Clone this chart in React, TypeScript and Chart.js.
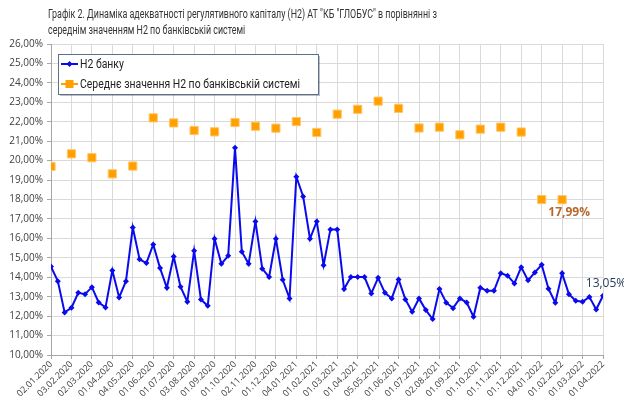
import React, { useEffect, useRef } from "react";
import { Chart, registerables } from "chart.js";

Chart.register(...registerables);

const monthLabels: string[] = [
  "02.01.2020", "03.02.2020", "02.03.2020", "01.04.2020", "04.05.2020", "01.06.2020",
  "01.07.2020", "03.08.2020", "01.09.2020", "01.10.2020", "02.11.2020", "01.12.2020",
  "04.01.2021", "01.02.2021", "01.03.2021", "01.04.2021", "05.05.2021", "01.06.2021",
  "01.07.2021", "02.08.2021", "01.09.2021", "01.10.2021", "01.11.2021", "01.12.2021",
  "04.01.2022", "01.02.2022", "01.03.2022", "01.04.2022",
];

// Н2 банку: three observations per month interval
const bankH2: number[] = [
  14.55, 13.80, 12.19, 12.43, 13.20, 13.13, 13.49, 12.70, 12.45, 14.35,
  12.96, 13.80, 16.56, 14.92, 14.73, 15.69, 14.47, 13.46, 15.07, 13.51,
  12.74, 15.36, 12.86, 12.53, 15.98, 14.69, 15.10, 20.66, 15.31, 14.69,
  16.87, 14.44, 14.01, 15.98, 13.87, 12.91, 19.17, 18.16, 15.98, 16.87,
  14.62, 16.46, 16.46, 13.39, 14.01, 14.01, 14.01, 13.17, 13.97, 13.20,
  12.91, 13.89, 12.86, 12.22, 12.91, 12.31, 11.85, 13.39, 12.69, 12.41,
  12.91, 12.70, 11.97, 13.46, 13.30, 13.30, 14.21, 14.08, 13.68, 14.52,
  13.84, 14.25, 14.64, 13.41, 12.69, 14.20, 13.13, 12.79, 12.74, 12.99,
  12.34, 13.05,
];

// Середнє значення Н2 по банківській системі: monthly
const systemH2: (number | null)[] = [
  19.70, 20.35, 20.15, 19.32, 19.72, 22.20, 21.94, 21.55, 21.48, 21.96,
  21.77, 21.67, 22.01, 21.45, 22.39, 22.64, 23.06, 22.69, 21.68, 21.72,
  21.33, 21.62, 21.72, 21.47, 18.00, 17.99, null, null,
];

const titleLines: string[] = [
  'Графік 2. Динаміка адекватності регулятивного капіталу (Н2) АТ "КБ "ГЛОБУС" в порівнянні з',
  "середнім значенням Н2 по банківській системі",
];

const seriesNames: string[] = ["Н2 банку", "Середнє значення Н2 по банківській системі"];

const STEP = 3;
const BLUE = "#0A0AEE";
const ORANGE = "#FFA000";
const FONT = "'Open Sans', 'Noto Sans', sans-serif";
const TFONT = "Roboto, 'Open Sans', sans-serif";

const fmt = (v: number) => v.toFixed(2).replace(".", ",") + "%";

// draw text compressed horizontally to a target width
function fitText(ctx: CanvasRenderingContext2D, text: string, x: number, y: number, sx: number) {
  ctx.save();
  ctx.translate(x, y);
  ctx.scale(sx, 1);
  ctx.fillText(text, 0, 0);
  ctx.restore();
}

export default function App() {
  const ref = useRef<HTMLCanvasElement | null>(null);

  useEffect(() => {
    const canvas = ref.current;
    if (!canvas) return;

    const bankData = bankH2.map((v, i) => ({ x: i, y: v }));
    const sysData = systemH2.map((v, i) => ({ x: i * STEP, y: v }));

    const titlePlugin = {
      id: "leftTitle",
      afterDraw(chart: any) {
        const ctx = chart.ctx as CanvasRenderingContext2D;
        ctx.save();
        ctx.font = `12px ${TFONT}`;
        ctx.fillStyle = "#333333";
        ctx.textAlign = "left";
        ctx.textBaseline = "middle";
        const w = ctx.measureText(titleLines[0]).width;
        const sx = Math.min(1, 389 / w);
        fitText(ctx, titleLines[0], 48, 15, sx);
        fitText(ctx, titleLines[1], 48, 31, sx);
        ctx.restore();
      },
    };

    const legendPlugin = {
      id: "boxLegend",
      afterDraw(chart: any) {
        const ctx = chart.ctx as CanvasRenderingContext2D;
        const x = 58, y = 54, w = 260, h = 40;
        ctx.save();
        ctx.fillStyle = "rgba(0,0,0,0.25)";
        ctx.fillRect(x + 2, y + 2, w, h);
        ctx.fillStyle = "#ffffff";
        ctx.fillRect(x, y, w, h);
        ctx.strokeStyle = "#5B7190";
        ctx.lineWidth = 1;
        ctx.strokeRect(x + 0.5, y + 0.5, w, h);
        const y1 = y + 10, y2 = y + 30;
        ctx.strokeStyle = BLUE;
        ctx.lineWidth = 2;
        ctx.beginPath();
        ctx.moveTo(x + 3, y1);
        ctx.lineTo(x + 20, y1);
        ctx.stroke();
        ctx.fillStyle = BLUE;
        ctx.beginPath();
        ctx.moveTo(x + 11.5, y1 - 3);
        ctx.lineTo(x + 14.5, y1);
        ctx.lineTo(x + 11.5, y1 + 3);
        ctx.lineTo(x + 8.5, y1);
        ctx.closePath();
        ctx.fill();
        ctx.strokeStyle = ORANGE;
        ctx.beginPath();
        ctx.moveTo(x + 3, y2);
        ctx.lineTo(x + 20, y2);
        ctx.stroke();
        ctx.fillStyle = ORANGE;
        ctx.fillRect(x + 7.5, y2 - 4, 8, 8);
        ctx.fillStyle = "#222";
        ctx.font = `12px ${TFONT}`;
        ctx.textBaseline = "middle";
        ctx.textAlign = "left";
        const w2 = ctx.measureText(seriesNames[1]).width;
        const sx = Math.min(1, 220 / w2);
        fitText(ctx, seriesNames[0], x + 22, y1 + 1, sx);
        fitText(ctx, seriesNames[1], x + 22, y2 + 1, sx);
        ctx.restore();
      },
    };

    const labelPlugin = {
      id: "pointLabels",
      afterDatasetsDraw(chart: any) {
        const ctx = chart.ctx as CanvasRenderingContext2D;
        const xs = chart.scales.x, ys = chart.scales.y;
        ctx.save();
        ctx.textAlign = "center";
        ctx.textBaseline = "middle";
        const li = bankH2.length - 1;
        ctx.font = `12px ${FONT}`;
        ctx.fillStyle = "#243B5A";
        ctx.fillText(fmt(bankH2[li]), xs.getPixelForValue(li) + 3, ys.getPixelForValue(bankH2[li]) - 12);
        let lo = 0;
        systemH2.forEach((v, i) => { if (v !== null) lo = i; });
        const ov = systemH2[lo] as number;
        ctx.font = `bold 12px ${FONT}`;
        ctx.fillStyle = "#B8682A";
        ctx.fillText(fmt(ov), xs.getPixelForValue(lo * STEP) + 7, ys.getPixelForValue(ov) + 13);
        ctx.restore();
      },
    };

    const chart = new Chart(canvas, {
      type: "line",
      data: {
        datasets: [
          {
            label: seriesNames[0],
            data: bankData,
            borderColor: BLUE,
            backgroundColor: BLUE,
            borderWidth: 2,
            pointStyle: "rectRot",
            pointRadius: 3,
            pointBorderWidth: 0,
            tension: 0,
          },
          {
            label: seriesNames[1],
            data: sysData as any,
            showLine: false,
            borderColor: "#FFC766",
            backgroundColor: ORANGE,
            pointStyle: "rect",
            pointRadius: 5.8,
            pointBorderWidth: 1,
          },
        ],
      },
      options: {
        responsive: false,
        animation: false,
        layout: { padding: { top: 44, right: 21, left: 0, bottom: 0 } },
        plugins: {
          legend: { display: false },
          tooltip: { enabled: false },
          title: { display: false },
        },
        scales: {
          x: {
            type: "linear",
            min: 0,
            max: (monthLabels.length - 1) * STEP,
            afterFit: (s: any) => { s.height = 50; },
            ticks: {
              stepSize: STEP,
              autoSkip: false,
              maxRotation: 45,
              minRotation: 45,
              padding: 0,
              color: "#404040",
              font: { family: FONT, size: 9 },
              callback: (v: any) => {
                const idx = Math.round(Number(v) / STEP);
                return monthLabels[idx] ?? "";
              },
            },
            grid: { color: "#D9D9D9", tickLength: 4, tickColor: "#A6A6A6" },
            border: { color: "#A6A6A6" },
          },
          y: {
            min: 10,
            max: 26,
            afterFit: (s: any) => { s.width = 51; },
            ticks: {
              stepSize: 1,
              padding: 4,
              color: "#404040",
              font: { family: FONT, size: 10 },
              callback: (v: any) => fmt(Number(v)),
            },
            grid: { color: "#D9D9D9", tickLength: 4, tickColor: "#A6A6A6" },
            border: { color: "#A6A6A6" },
          },
        },
      },
      plugins: [labelPlugin, legendPlugin, titlePlugin],
    } as any);

    return () => chart.destroy();
  }, []);

  return (
    <div style={{ position: "absolute", left: 0, top: 0, width: 624, height: 405, background: "#fff" }}>
      <canvas ref={ref} width={624} height={405} style={{ display: "block" }} />
    </div>
  );
}
